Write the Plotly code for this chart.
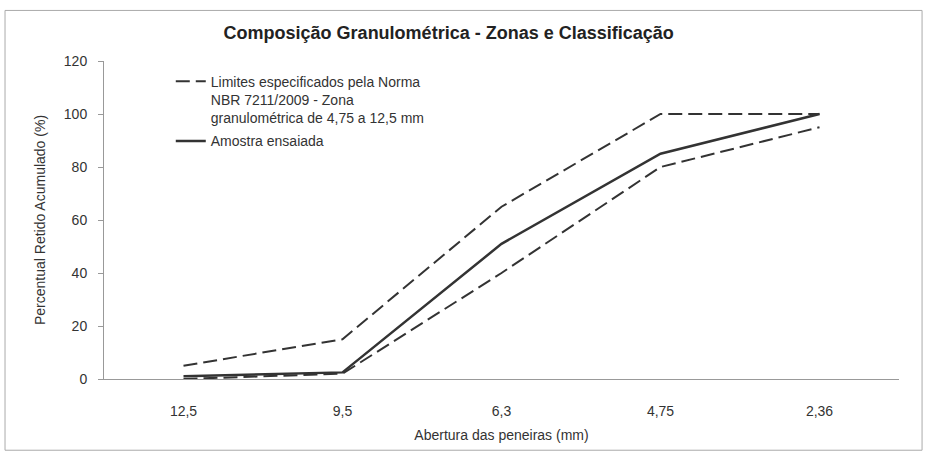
import plotly.graph_objects as go

categorias = ["12,5", "9,5", "6,3", "4,75", "2,36"]
limite_superior = [5, 15, 65, 100, 100]
limite_inferior = [0, 2, 40, 80, 95]
amostra = [1, 2.5, 51, 85, 100]

legenda_limites = "Limites especificados pela Norma<br>NBR 7211/2009 - Zona<br>granulométrica de 4,75 a 12,5 mm"
legenda_amostra = "Amostra ensaiada"

cor = "#333333"
dash = "14px,6px"

fig = go.Figure()
fig.add_trace(go.Scatter(x=categorias, y=limite_superior, mode="lines", name=legenda_limites,
                         line=dict(color=cor, width=2, dash=dash), legendgroup="lim"))
fig.add_trace(go.Scatter(x=categorias, y=limite_inferior, mode="lines", name=legenda_limites,
                         line=dict(color=cor, width=2, dash=dash), legendgroup="lim", showlegend=False))
fig.add_trace(go.Scatter(x=categorias, y=amostra, mode="lines", name=legenda_amostra,
                         line=dict(color=cor, width=2.5)))

fig.update_layout(
    width=927, height=454,
    margin=dict(l=104, r=28, t=61, b=75),
    paper_bgcolor="white", plot_bgcolor="white",
    font=dict(family="Liberation Sans, Arial, sans-serif", size=13, color="#333333"),
    title=dict(text="<b>Composição Granulométrica - Zonas e Classificação</b>",
               x=0.484, xanchor="center", y=0.927, yanchor="middle",
               font=dict(size=18, color="#222222")),
    showlegend=True,
    legend=dict(x=0.084, y=0.985, xanchor="left", yanchor="top", bgcolor="rgba(0,0,0,0)",
                valign="top", tracegroupgap=2, font=dict(size=14, color="#333333")),
    xaxis=dict(type="category", range=[-0.5, 4.5], showline=True, linecolor="#999999", linewidth=1,
               ticks="", showgrid=False, zeroline=False, ticklabelstandoff=19,
               tickfont=dict(size=14),
               title=dict(text="Abertura das peneiras (mm)", standoff=12, font=dict(size=14))),
    yaxis=dict(range=[0, 120], dtick=20, showline=True, linecolor="#999999", linewidth=1,
               ticks="outside", ticklen=5, tickcolor="#999999", showgrid=False, zeroline=False,
               ticklabelstandoff=8, tickfont=dict(size=14),
               title=dict(text="Percentual Retido Acumulado (%)", standoff=14, font=dict(size=14))),
)

fig.add_shape(type="rect", xref="paper", yref="paper", x0=-0.1245, x1=1.029, y0=-0.224, y1=1.159,
              line=dict(color="#aaaaaa", width=1), layer="below")

fig.write_html("out.html", config={"displayModeBar": False},
               post_script="document.body.style.margin='0';")
